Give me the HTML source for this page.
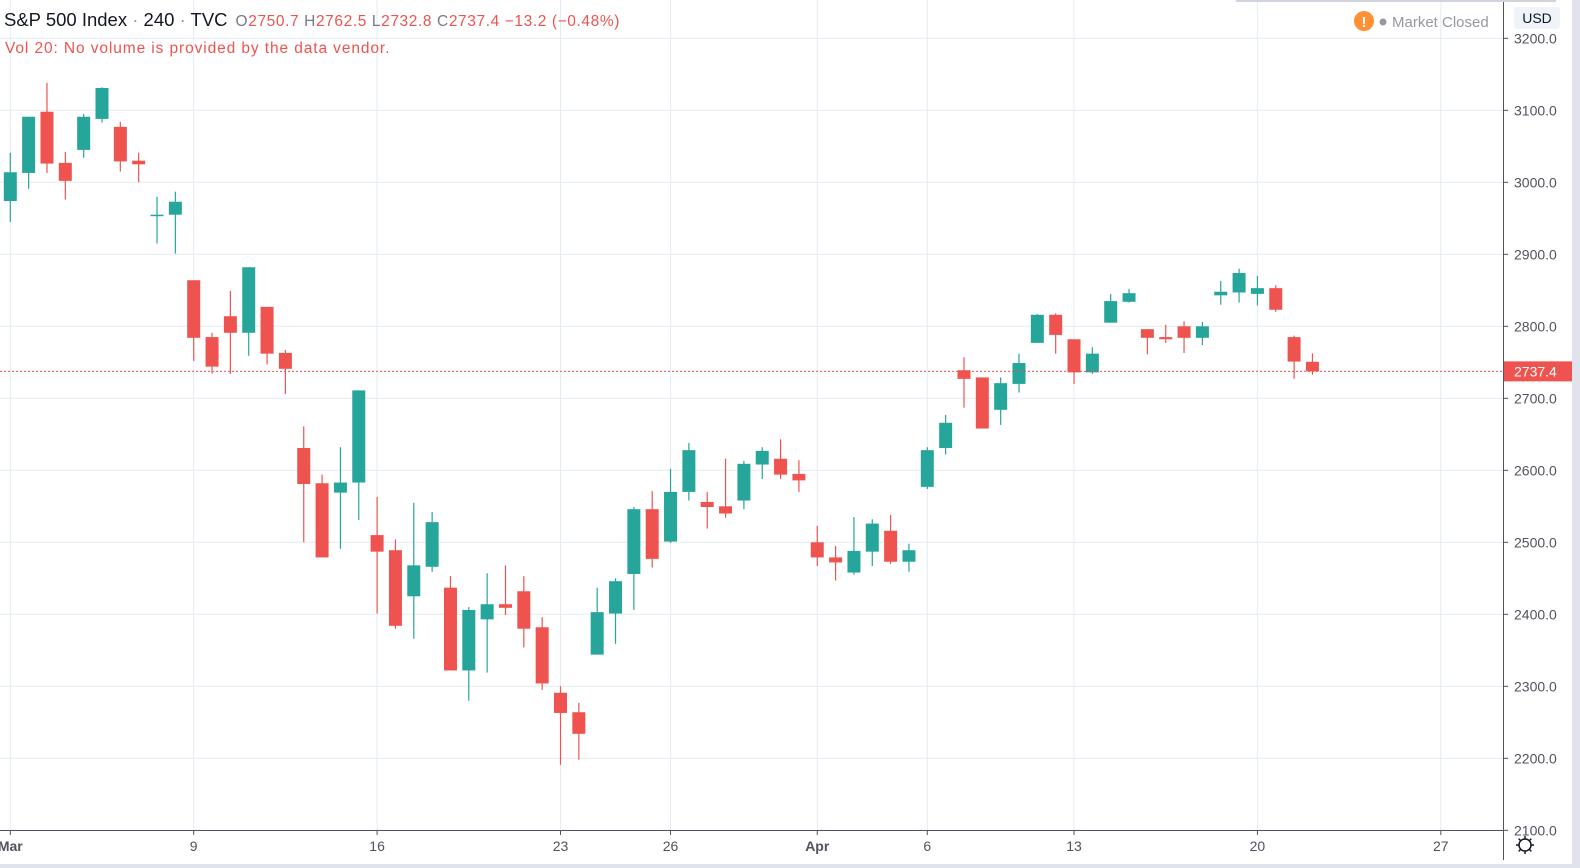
<!DOCTYPE html>
<html><head><meta charset="utf-8">
<style>
html,body{margin:0;padding:0;background:#fff;width:1580px;height:868px;overflow:hidden;font-family:"Liberation Sans",sans-serif;}
#wrap{position:relative;width:1580px;height:868px;}
svg{position:absolute;left:0;top:0;}
.hdr{position:absolute;left:4px;top:9px;font-size:18.5px;color:#131722;white-space:nowrap;}
.hdr .o{font-size:15.5px;color:#787b86;margin-left:8px;letter-spacing:0.6px;}
.hdr .o span{color:#ef5350;}
.vol{position:absolute;left:5px;top:40px;font-size:15.5px;color:#ef5350;letter-spacing:0.9px;}
</style></head>
<body>
<div id="wrap">
<svg id="chart" width="1580" height="868"></svg>
<div class="hdr">S&amp;P 500 Index <span style="color:#9598a1">·</span> 240 <span style="color:#9598a1">·</span> TVC<span class="o">O<span>2750.7</span> H<span>2762.5</span> L<span>2732.8</span> C<span>2737.4</span> <span>−13.2 (−0.48%)</span></span></div>
<div class="vol">Vol 20: No volume is provided by the data vendor.</div>
</div>
<script>
const opens=[2974,3013,3098,3027,3045,3088,3077,3030,2953,2955,2864,2785,2814,2791,2827,2763,2631,2582,2569,2583,2510,2489,2425,2466,2437,2322,2393,2414,2432,2382,2291,2264,2344,2401,2456,2546,2501,2570,2556,2550,2558,2608,2616,2595,2500,2479,2458,2487,2516,2473,2577,2631,2739,2729,2684,2720,2777,2816,2782,2736,2805,2834,2796,2785,2800,2784,2843,2847,2845,2853,2785,2750.7];
const highs=[3041,3091,3138,3042,3095,3132,3084,3041,2980,2987,2864,2791,2849,2882,2827,2767,2661,2594,2632,2711,2563,2504,2555,2542,2453,2410,2457,2468,2453,2396,2300,2277,2437,2450,2549,2571,2602,2638,2570,2616,2613,2632,2643,2614,2523,2495,2535,2532,2538,2498,2632,2677,2757,2729,2729,2762,2817,2818,2782,2771,2845,2852,2796,2802,2807,2806,2863,2880,2870,2857,2787,2762.5];
const lows=[2945,2991,3013,2976,3034,3083,3015,3000,2915,2901,2752,2734,2734,2759,2747,2706,2500,2479,2491,2531,2401,2380,2366,2459,2322,2280,2319,2399,2354,2295,2191,2198,2344,2359,2406,2465,2499,2558,2519,2534,2546,2588,2588,2570,2467,2447,2455,2467,2470,2459,2574,2622,2687,2658,2663,2708,2777,2762,2720,2734,2805,2833,2761,2777,2763,2774,2830,2833,2829,2820,2727,2732.8];
const closes=[3014,3091,3026,3002,3091,3131,3029,3025,2955,2973,2784,2744,2791,2882,2762,2741,2581,2479,2583,2711,2487,2384,2468,2528,2322,2406,2414,2409,2380,2304,2263,2234,2403,2446,2546,2477,2570,2628,2549,2540,2609,2627,2594,2586,2479,2472,2488,2526,2473,2489,2628,2666,2727,2658,2721,2749,2816,2788,2736,2762,2835,2846,2784,2782,2784,2800,2848,2874,2853,2823,2751,2737.4];
const priceTicks=[3200,3100,3000,2900,2800,2700,2600,2500,2400,2300,2200,2100];
const timeTickIdx=[0,10,20,30,36,44,50,58,68,78];
const timeTickLabels=["Mar","9","16","23","26","Apr","6","13","20","27"];
const lastPrice=2737.4;

const NS="http://www.w3.org/2000/svg";
const svg=document.getElementById('chart');
const yOf=p=>110.3+(3100-p)*0.72;
const xOf=i=>10.3+i*18.34;
function mk(tag,attrs,parent){const e=document.createElementNS(NS,tag);for(const k in attrs)e.setAttribute(k,attrs[k]);(parent||svg).appendChild(e);return e;}
const grid=mk('g',{});


priceTicks.forEach(p=>{const l=mk('line',{x1:0,x2:1503,y1:yOf(p),y2:yOf(p),stroke:'#e3ecf3','stroke-width':1},grid);

});
timeTickIdx.forEach(i=>{const l=mk('line',{x1:xOf(i),x2:xOf(i),y1:0,y2:830,stroke:'#e3ecf3','stroke-width':1},grid);

});
const cg=mk('g',{});


opens.forEach((o,i)=>{const c=closes[i],up=c>=o,col=up?'#26a69a':'#ef5350';const x=xOf(i);
const g=mk('g',{},cg);


mk('line',{x1:x,x2:x,y1:yOf(highs[i]),y2:yOf(lows[i]),stroke:col,'stroke-width':1.2},g);
const top=yOf(Math.max(o,c)),bh=Math.max(1.5,Math.abs(yOf(o)-yOf(c)));
mk('rect',{x:x-6.5,y:top,width:13,height:bh,fill:col},g);});
const pl=mk('line',{x1:0,x2:1503,y1:yOf(lastPrice),y2:yOf(lastPrice),stroke:'#ef5350','stroke-width':1,'stroke-dasharray':'2,2'});


const pa=mk('g',{});


mk('rect',{x:1503,y:0,width:77,height:868,fill:'#fff'},pa);
mk('line',{x1:1503.5,x2:1503.5,y1:0,y2:860,stroke:'#50535e','stroke-width':1},pa);
mk('rect',{x:1572,y:0,width:8,height:868,fill:'#e0e3eb'},pa);
priceTicks.forEach(p=>{mk('line',{x1:1503,x2:1508,y1:yOf(p),y2:yOf(p),stroke:'#50535e'},pa);
const t=mk('text',{x:1514,y:yOf(p)+5,'font-size':14,fill:'#50535e','font-family':'Liberation Sans, sans-serif'},pa);t.textContent=p.toFixed(1);

});
const lb=mk('g',{});


mk('rect',{x:1504,y:yOf(lastPrice)-10,width:68,height:20,fill:'#ef5350'},lb);
const lt=mk('text',{x:1514,y:yOf(lastPrice)+5,'font-size':14,fill:'#fff','font-family':'Liberation Sans, sans-serif'},lb);lt.textContent=lastPrice.toFixed(1);
const ta=mk('g',{});


mk('rect',{x:0,y:830,width:1503,height:38,fill:'#fff'},ta);
mk('line',{x1:0,x2:1503,y1:830.5,y2:830.5,stroke:'#50535e'},ta);
mk('rect',{x:0,y:864,width:1580,height:4,fill:'#e0e3eb'},ta);
timeTickIdx.forEach((idx,k)=>{const x=xOf(idx);mk('line',{x1:x,x2:x,y1:830,y2:835,stroke:'#50535e'},ta);
const t=mk('text',{x:x,y:851,'font-size':14,fill:'#50535e','text-anchor':'middle','font-family':'Liberation Sans, sans-serif','font-weight':(timeTickLabels[k]==='Mar'||timeTickLabels[k]==='Apr')?'bold':'normal'},ta);t.textContent=timeTickLabels[k];

});
const gear=mk('g',{});


mk('circle',{cx:1525,cy:845,r:6,fill:'none',stroke:'#131722','stroke-width':1.5},gear);
for(let a=0;a<8;a++){const r=a*Math.PI/4;mk('line',{x1:1525+Math.cos(r)*6,y1:845+Math.sin(r)*6,x2:1525+Math.cos(r)*9,y2:845+Math.sin(r)*9,stroke:'#131722','stroke-width':1.5},gear);}
const usd=mk('g',{});


mk('rect',{x:1514,y:7,width:46,height:22,rx:3,fill:'#f0f3fa'},usd);
const ut=mk('text',{x:1537,y:23,'font-size':14,fill:'#131722','text-anchor':'middle','font-family':'Liberation Sans, sans-serif'},usd);ut.textContent='USD';
const mc=mk('g',{});


mk('circle',{cx:1364,cy:21,r:10,fill:'#ff9034'},mc);
const ex=mk('text',{x:1364,y:27,'font-size':15,fill:'#fff','text-anchor':'middle','font-weight':'bold','font-family':'Liberation Sans, sans-serif'},mc);ex.textContent='!';
mk('circle',{cx:1383,cy:22,r:3.5,fill:'#9598a1'},mc);
const mt=mk('text',{x:1392,y:27,'font-size':15,fill:'#9598a1','font-family':'Liberation Sans, sans-serif'},mc);mt.textContent='Market Closed';
mk('rect',{x:1236,y:0,width:320,height:2,fill:'#d1d4dc'});
</script>
</body></html>
